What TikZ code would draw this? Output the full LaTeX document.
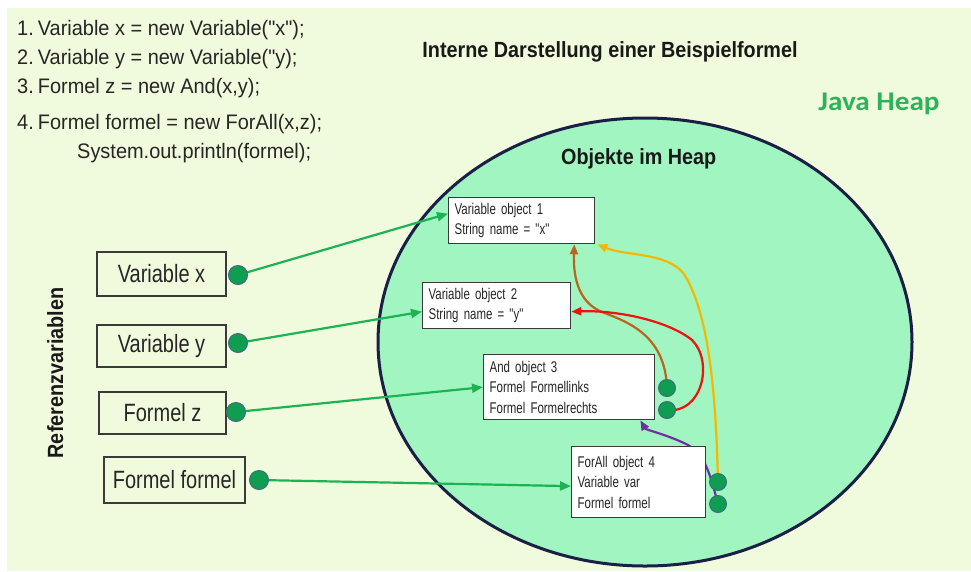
\documentclass[tikz,border=0pt]{standalone}
\usepackage{fontspec}
\setmainfont{Liberation Sans}
\newfontfamily\codefont[FakeStretch=0.95]{Liberation Sans}
\newfontfamily\reffont[FakeStretch=0.8]{Liberation Sans}
\newfontfamily\objfont[FakeStretch=0.74]{Liberation Sans}
\newfontfamily\headfont[FakeStretch=0.9]{Liberation Sans}
\newfontfamily\heapfont[FakeStretch=1.08]{Carlito}
\usetikzlibrary{arrows.meta}

\definecolor{bgcol}{HTML}{F0FADC}
\definecolor{heapfill}{HTML}{A0F5C0}
\definecolor{heapline}{HTML}{1B1F45}
\definecolor{boxline}{HTML}{3A3A3A}
\definecolor{dotfill}{HTML}{0F9D50}
\definecolor{dotedge}{HTML}{3F6A88}
\definecolor{refgreen}{HTML}{1DB254}
\definecolor{heapgreen}{HTML}{2DB35A}
\definecolor{linkbrown}{HTML}{B8651F}
\definecolor{linkred}{HTML}{EE1111}
\definecolor{linkyellow}{HTML}{F5B800}
\definecolor{linkpurple}{HTML}{7030A0}

\pgfdeclarelayer{backdrop}
\pgfdeclarelayer{links}
\pgfsetlayers{backdrop,links,main}

\newcommand{\nr}[1]{#1.\hspace{4pt}}

\tikzset{
  codeline/.style={anchor=base west, inner sep=0pt, font=\codefont\fontsize{21}{26}\selectfont, text=black!85},
  headline/.style={inner sep=0pt, font=\headfont\bfseries\fontsize{22}{26}\selectfont, text=black!90},
  refbox/.style={draw=boxline, line width=1.4pt, inner sep=0pt, font=\reffont\fontsize{25}{30}\selectfont, text=black!85},
  objbox/.style={draw=boxline, fill=white, line width=1.3pt, anchor=north west, align=left,
                 inner xsep=6pt, inner ysep=2pt, font=\objfont\fontsize{15.5}{20.5}\selectfont, text=black!85},
  refdot/.style={circle, inner sep=0pt, minimum size=19pt, fill=dotfill, draw=dotedge, line width=1pt},
  fielddot/.style={circle, inner sep=0pt, minimum size=17pt, fill=dotfill, draw=dotedge, line width=1pt},
  refarrow/.style={draw=refgreen, line width=2.2pt, -{Triangle[length=11pt,width=9pt]}},
  link/.style={line width=2.2pt, -{Triangle[length=10pt,width=8pt]}}
}

\begin{document}
\begin{tikzpicture}[x=1pt,y=-1pt]
  \useasboundingbox (0,0) rectangle (971,571);
  \begin{pgfonlayer}{backdrop}
    \fill[bgcol] (7,8) rectangle (971,571);
    % the heap
    \draw[heapline, line width=3pt, fill=heapfill] (645,342) ellipse [x radius=267, y radius=224];
  \end{pgfonlayer}

  % source code
  \node[codeline] (c1) at (17,35) {\nr{1}Variable x = new Variable("x");};
  \node[codeline] (c2) at (17,64) {\nr{2}Variable y = new Variable("y);};
  \node[codeline] (c3) at (17,93) {\nr{3}Formel z = new And(x,y);};
  \node[codeline] (c4) at (17,129) {\nr{4}Formel formel = new ForAll(x,z);};
  \node[codeline] (c5) at (77,158) {System.out.println(formel);};

  % headings
  \node[headline, anchor=base] (title) at (610,57) {Interne Darstellung einer Beispielformel};
  \node[inner sep=0pt, anchor=base, font=\heapfont\bfseries\fontsize{27}{30}\selectfont, text=heapgreen] (javaheap) at (879,110) {Java Heap};
  \node[headline, anchor=base west] (heaptitle) at (561,164) {Objekte im Heap};
  \node[headline, rotate=90, anchor=base] (reflabel) at (63,373) {Referenzvariablen};

  % reference variables
  \node[refbox, minimum width=129pt, minimum height=44pt] (vx) at (161.5,274) {Variable x};
  \node[refbox, minimum width=129pt, minimum height=42pt] (vy) at (161.5,346) {Variable y};
  \node[refbox, minimum width=127pt, minimum height=42pt] (fz) at (162.5,413) {Formel z};
  \node[refbox, minimum width=141pt, minimum height=46pt] (ff) at (174.5,480) {Formel formel};

  % objects in the heap
  \node[objbox, text width=134pt, minimum height=46pt] (o1) at (448,197) {Variable object 1\\String name = "x"};
  \node[objbox, text width=136pt, minimum height=46pt] (o2) at (422,282) {Variable object 2\\String name = "y"};
  \node[objbox, text width=159pt, minimum height=65pt] (o3) at (483,354) {And object 3\\Formel Formellinks\\Formel Formelrechts};
  \node[objbox, text width=122pt, minimum height=71pt] (o4) at (571,446) {ForAll object 4\\Variable var\\Formel formel};

  % reference dots
  \node[refdot] (rx) at (238,275) {};
  \node[refdot] (ry) at (238,343) {};
  \node[refdot] (rz) at (236,412) {};
  \node[refdot] (rf) at (259,480) {};

  % field dots
  \node[fielddot] (d1) at (667,388) {};
  \node[fielddot] (d2) at (667,410) {};
  \node[fielddot] (d3) at (718,482) {};
  \node[fielddot] (d4) at (718,504) {};

  \begin{pgfonlayer}{links}
    % references into the heap
    \draw[refarrow] (rx.center) -- ([yshift=7pt]o1.west);
    \draw[refarrow] (ry.center) -- ([yshift=-6pt]o2.west);
    \draw[refarrow] (rz.center) -- (o3.west);
    \draw[refarrow] (rf.center) -- ([yshift=-4pt]o4.west);

    % field references between objects
    \draw[link, draw=linkbrown] (d1.center) .. controls (665,335) and (628,322) .. (602,312)
          .. controls (580,303) and (573,280) .. ([xshift=-21pt]o1.south east);
    \draw[link, draw=linkred] (d2.center) .. controls (702,414) and (714,362) .. (692,340)
          .. controls (667,320) and (615,310) .. ([yshift=-6pt]o2.east);
    \draw[link, draw=linkyellow] (d3.center) .. controls (716,400) and (710,315) .. (684,274)
          .. controls (667,252) and (625,256) .. ([xshift=2pt]o1.south east);
    \draw[link, draw=linkpurple] (d4.center) .. controls (709,470) and (704,452) .. (684,443)
          .. controls (662,433) and (646,430) .. ([xshift=-15pt]o3.south east);
  \end{pgfonlayer}
\end{tikzpicture}
\end{document}
